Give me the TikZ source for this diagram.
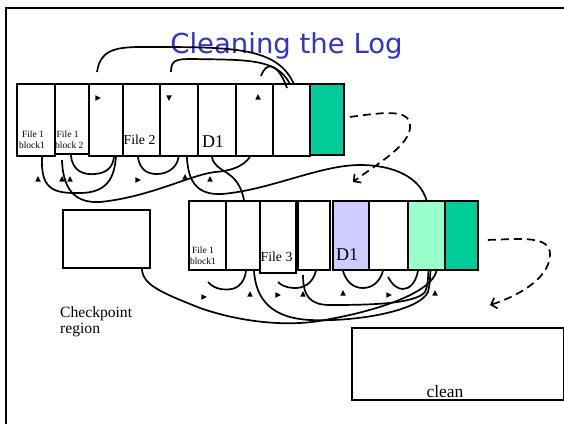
\documentclass[tikz,border=0pt]{standalone}
\usepackage{fontspec}
\setmainfont{Liberation Serif}
\newfontfamily\titlefont{DejaVu Sans}
\usetikzlibrary{shapes.geometric,arrows.meta,calc}
\definecolor{titleblue}{RGB}{51,51,204}
\definecolor{segreen}{RGB}{0,204,153}
\definecolor{livegreen}{RGB}{153,255,204}
\definecolor{dirblue}{RGB}{204,204,255}

\begin{document}
\begin{tikzpicture}[x=1pt,y=-1pt,
  cellbox/.style={draw=black, line width=1.9pt, inner sep=0pt, anchor=north west},
  link/.style={line width=1.7pt, black},
  dlink/.style={line width=1.7pt, black, dash pattern=on 8pt off 5pt,
                -{Straight Barb[length=5pt,width=11pt,line width=1.7pt]}},
  tiny/.style={inner sep=0pt, font=\fontsize{9.5}{11}\selectfont},
  mid/.style={inner sep=0pt, font=\fontsize{13.8}{15}\selectfont},
  big/.style={inner sep=0pt, font=\fontsize{18}{20}\selectfont},
  tip/.style={isosceles triangle, isosceles triangle stretches, fill=black,
              inner sep=0pt, minimum height=5.5pt, minimum width=5.5pt}
]
\useasboundingbox (0,0) rectangle (564,424);

% page frame
\draw[line width=2.2pt] (6,424) -- (6,8) -- (564,8);

% title
\node[anchor=base, inner sep=0pt, text=titleblue,
      font=\titlefont\fontsize{27.5}{30}\selectfont] (title) at (286.5,53) {Cleaning the Log};

% log before cleaning
\node[cellbox, minimum width=38pt, minimum height=72pt] (u1) at (16,83) {};
\node[cellbox, minimum width=34pt, minimum height=70pt] (u2) at (54,83) {};
\node[cellbox, minimum width=34pt, minimum height=72pt] (u3) at (88,83) {};
\node[cellbox, minimum width=37pt, minimum height=72pt] (u4) at (122,83) {};
\node[cellbox, minimum width=38pt, minimum height=72pt] (u5) at (159,83) {};
\node[cellbox, minimum width=38pt, minimum height=72pt] (u6) at (197,83) {};
\node[cellbox, minimum width=37pt, minimum height=72pt] (u7) at (235,83) {};
\node[cellbox, minimum width=37pt, minimum height=72pt] (u8) at (272,83) {};
\node[cellbox, fill=segreen, minimum width=34pt, minimum height=71pt] (u9) at (309,83) {};

\node[tiny, anchor=base] (u1a) at (33,137) {File 1};
\node[tiny, anchor=base] (u1b) at (32,148) {block1};
\node[tiny, anchor=base west] (u2a) at (56.5,137) {File 1};
\node[tiny, anchor=base west] (u2b) at (55,148) {block 2};
\node[mid, anchor=base] (u4a) at (139.5,144) {File 2};
\node[big, anchor=base] (u6a) at (213,147) {D1};

% log after cleaning
\node[cellbox, minimum width=37pt, minimum height=69pt] (l1) at (188,200) {};
\node[cellbox, minimum width=34pt, minimum height=69pt] (l2) at (225,200) {};
\node[cellbox, minimum width=36pt, minimum height=72pt] (l3) at (259,200) {};
\node[cellbox, minimum width=32pt, minimum height=69pt] (l4) at (297,200) {};
\node[cellbox, fill=dirblue, minimum width=36pt, minimum height=69pt] (l5) at (332,200) {};
\node[cellbox, minimum width=39pt, minimum height=69pt] (l6) at (368,200) {};
\node[cellbox, fill=livegreen, minimum width=37pt, minimum height=69pt] (l7) at (407,200) {};
\node[cellbox, fill=segreen, minimum width=33pt, minimum height=69pt] (l8) at (444,200) {};

\node[tiny, anchor=base] (l1a) at (203,253) {File 1};
\node[tiny, anchor=base] (l1b) at (203,264) {block1};
\node[mid, anchor=base] (l3a) at (276.5,261) {File 3};
\node[big, anchor=base] (l5a) at (347,260) {D1};

% checkpoint region and clean area
\node[cellbox, minimum width=87pt, minimum height=58pt] (cp) at (62,209) {};
\node[inner sep=0pt, anchor=base west, font=\fontsize{15.6}{18}\selectfont] (cpa) at (60,317) {Checkpoint};
\node[inner sep=0pt, anchor=base west, font=\fontsize{15.6}{18}\selectfont] (cpb) at (60,333) {region};
\node[cellbox, minimum width=212pt, minimum height=72pt] (cl) at (351,327) {};
\node[inner sep=0pt, anchor=base, font=\fontsize{17.5}{20}\selectfont] (cla) at (445,397) {clean};

% free ends of pointers
\coordinate (aS) at (97,72);
\coordinate (bS) at (171,72);
\coordinate (cS) at (261,76);
\coordinate (cE) at (287,88);
\coordinate (eS) at (62,160);
\coordinate (f1S) at (208,282);
\coordinate (f2S) at (278,282);
\coordinate (kS) at (303,275);
\coordinate (f4S) at (388,277);
\coordinate (dT1) at (353,182);
\coordinate (dT2) at (490,305);

% pointers above the old log
\draw[link] (aS) .. controls (100,52) and (112,47) .. (140,47)
            .. controls (230,47) and (276,46) .. ([xshift=2pt]u8.north);
\draw[link] (bS) .. controls (171,60) and (176,59) .. (192,59)
            .. controls (245,60) and (276,58) .. ([xshift=-2pt]u8.north);
\draw[link] (cS) .. controls (266,62) and (277,61) .. (cE);

% pointers below the old log
\draw[link] ([xshift=6pt]u1.south) .. controls (41,186) and (50,193) .. (75,193)
            .. controls (102,194) and (114,184) .. ([xshift=10pt]u3.south);
\draw[link] ([xshift=-1pt]u2.south) .. controls (72,172) and (85,175) .. (95,174)
            .. controls (108,173) and (113,166) .. ([xshift=8pt]u3.south);
\draw[link] (eS) .. controls (63,195) and (80,203) .. (100,202)
            .. controls (150,197) and (190,175) .. (215,172)
            .. controls (230,171) and (243,167) .. ([xshift=-4.5pt]u7.south);
\draw[link] ([xshift=-3.5pt]u4.south) .. controls (140,172) and (150,174) .. (157,174)
            .. controls (170,174) and (178,165) .. ([xshift=-0.5pt]u5.south);
\draw[link] ([xshift=8pt]u5.south) .. controls (188,185) and (200,195) .. (222,194)
            .. controls (270,190) and (320,165) .. (360,165)
            .. controls (395,165) and (420,178) .. (l7.north);
\draw[link] ([xshift=-5pt]u6.south) .. controls (215,174) and (238,168) .. ([xshift=1pt]l2.north);

% pointers below the new log
\draw[link] (f1S) .. controls (215,290) and (225,290) .. (232,289)
            .. controls (240,287) and (245,280) .. ([xshift=3pt]l2.south);
\draw[link] ([xshift=11pt]l2.south) .. controls (256,300) and (272,318) .. (310,320)
            .. controls (360,322) and (420,310) .. (428,292)
            .. controls (430,285) and (430,278) .. ([xshift=4pt]l7.south);
\draw[link] (f2S) .. controls (284,288) and (292,288) .. (297,288)
            .. controls (306,287) and (313,282) .. ([xshift=2pt]l4.south);
\draw[link] (kS) .. controls (303,296) and (310,305) .. (330,305)
            .. controls (370,305) and (415,304) .. (425,292)
            .. controls (428,286) and (428,278) .. ([xshift=2pt]l7.south);
\draw[link] ([xshift=-8pt]l5.south) .. controls (347,284) and (355,288) .. (363,288)
            .. controls (372,288) and (380,282) .. ([xshift=-5.5pt]l6.south);
\draw[link] (f4S) .. controls (393,286) and (398,289) .. (403,289)
            .. controls (410,289) and (416,282) .. ([xshift=-8.5pt]l7.south);
\draw[link] ([xshift=-9pt]cp.south east) .. controls (143,285) and (160,292) .. (200,308)
            .. controls (240,322) and (290,328) .. (330,319)
            .. controls (380,310) and (432,292) .. ([xshift=10pt]l7.south);

% segment-to-segment moves
\draw[dlink] ([xshift=5pt,yshift=2.5pt]u9.east) .. controls (380,113) and (409,108) .. (410,125)
             .. controls (412,145) and (375,165) .. (dT1);
\draw[dlink] ([xshift=9pt,yshift=-4.5pt]l8.east) .. controls (520,239) and (551,235) .. (550,255)
             .. controls (549,280) and (515,297) .. (dT2);

% arrowheads
\node[tip] (h1) at (97,98) {};
\node[tip, shape border rotate=270] (h2) at (169,97) {};
\node[tip, shape border rotate=90] (h3) at (258,98) {};
\node[tip, shape border rotate=90] (h4) at (38,180) {};
\node[tip, shape border rotate=90] (h5) at (62,180) {};
\node[tip, shape border rotate=90] (h6) at (70,180) {};
\node[tip] (h7) at (137,180) {};
\node[tip, shape border rotate=90] (h8) at (185,178) {};
\node[tip, shape border rotate=90] (h9) at (210,180) {};
\node[tip] (h10) at (203,297) {};
\node[tip, shape border rotate=90] (h11) at (250,295) {};
\node[tip] (h12) at (277,295) {};
\node[tip, shape border rotate=90] (h13) at (303,295) {};
\node[tip, shape border rotate=90] (h14) at (343,294) {};
\node[tip] (h15) at (388,295) {};
\node[tip, shape border rotate=90] (h16) at (435,294) {};
\end{tikzpicture}
\end{document}
